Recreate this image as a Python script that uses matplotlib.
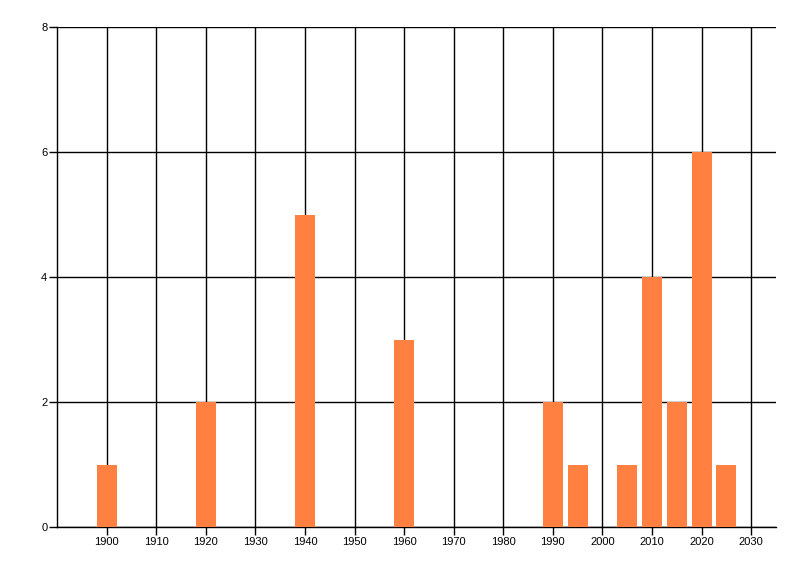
import matplotlib
matplotlib.use("Agg")
import matplotlib.pyplot as plt

years = [1900, 1920, 1940, 1960, 1990, 1995, 2005, 2010, 2015, 2020, 2025]
counts = [1, 2, 5, 3, 2, 1, 1, 4, 2, 6, 1]
xticks = list(range(1900, 2031, 10))
yticks = [0, 2, 4, 6, 8]

plt.rcParams['font.family'] = ['Liberation Sans', 'DejaVu Sans']
fig = plt.figure(figsize=(8, 5.76), dpi=100)
ax = fig.add_axes([57/800, 1-527/576, (776-57)/800, (527-27)/576])
ax.bar(years, counts, width=4, color='#FF8040', zorder=3)
ax.set_xlim(1890, 2035)
ax.set_ylim(0, 8)
ax.set_xticks(xticks)
ax.set_yticks(yticks)
ax.set_xticklabels([str(t) for t in xticks])
ax.set_yticklabels([str(t) for t in yticks])
ax.grid(True, color='black', linewidth=1, zorder=0)
for s in ['top', 'right']:
    ax.spines[s].set_visible(False)
for s in ['left', 'bottom']:
    ax.spines[s].set_linewidth(1)
ax.tick_params(axis='both', labelsize=8, length=5.5, width=1, color='black', pad=1.5)
ax.set_axisbelow(True)
fig.savefig('out.png', dpi=100)
